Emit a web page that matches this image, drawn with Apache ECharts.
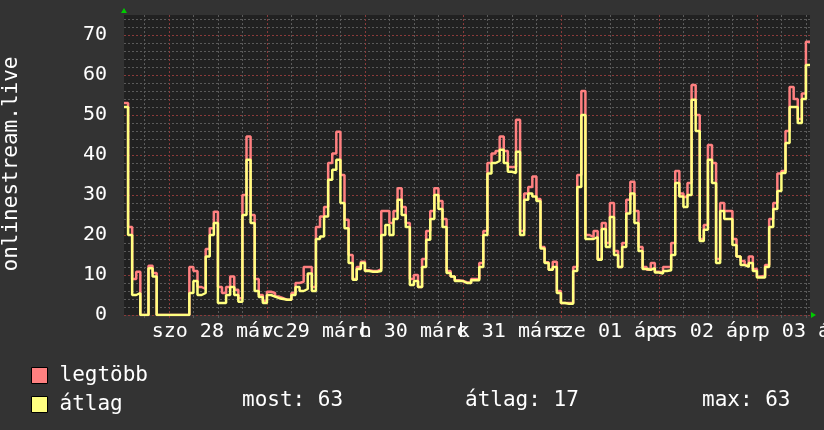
<!DOCTYPE html>
<html><head><meta charset="utf-8">
<script src="https://cdn.jsdelivr.net/npm/echarts@6/dist/echarts.min.js"></script>
<style>html,body{margin:0;padding:0;background:#333333;}#c{width:824px;height:430px;}</style>
</head><body><div id="c"></div>
<script>
// first sample is at 13:00 on Fri 27 March; one sample per hour
const startClockHour = 13;
const dayLabels = ['szo 28 márc', 'v 29 márc', 'h 30 márc', 'k 31 márc', 'sze 01 ápr', 'cs 02 ápr', 'p 03 ápr'];
const legendNames = ['legtöbb', 'átlag'];
const statTexts = ['most: 63', 'átlag: 17', 'max: 63'];
const axisTitle = 'onlinestream.live';

const maxValues = [
  53, 22, 9, 10.8, 0, 0, 12.3, 10.5, 0, 0, 0, 0, 0, 0, 0, 0,
  12, 11, 7, 6.5, 16.5, 21.7, 25.8, 7, 5.5, 7, 9.6, 6.3, 4.2, 30, 44.6, 25,
  9, 5, 3.5, 5.8, 5.5, 4.6, 4.2, 3.8, 3.8, 5.5, 8, 8.3, 12, 12, 7, 22,
  24.6, 27, 38, 40.4, 45.8, 35, 23.8, 15, 9, 12, 13.3, 11.2, 11, 11, 11.5, 26,
  26, 23, 26, 31.7, 27, 23, 9, 10, 7, 14, 21, 26, 31.7, 28.5, 24, 11,
  9.6, 8.7, 8.5, 8.2, 8, 9, 9, 13, 21, 38, 40.4, 41, 44.6, 41, 37, 37,
  48.8, 21, 30.4, 32, 34.6, 29, 17, 13.2, 11.3, 13.3, 6, 3, 3, 3, 12, 35,
  56, 20, 19.5, 21, 14, 23, 18, 28, 16, 12, 18, 28.8, 33.3, 26, 17, 12,
  11.3, 13, 10.8, 10.6, 12, 12, 18, 36, 30.4, 29.5, 33, 57.5, 50, 19, 22.5, 42.5,
  38, 14, 28, 26, 26, 19, 14.6, 13.5, 12.5, 14.6, 11.5, 9.6, 9.8, 12.5, 24, 28,
  35.4, 36, 46, 57, 54, 49, 55.4, 68.3, 68.3
];
const avgValues = [
  52, 20, 5, 5.5, 0, 0, 11.7, 9.6, 0, 0, 0, 0, 0, 0, 0, 0,
  5.5, 8.5, 5, 5.5, 14.6, 20, 23, 3, 3, 5, 7, 5, 3.3, 25, 38.8, 23,
  6, 4.5, 3, 5, 4.6, 4.2, 4, 3.8, 3.8, 5, 7, 6, 6.5, 10.4, 6, 19,
  19.6, 24.6, 33.8, 36.3, 38.8, 28, 21.7, 13, 8.8, 11.5, 13, 11, 10.8, 10.8, 11, 20,
  22.5, 20, 24, 28.8, 25, 22, 7.5, 8.5, 7, 12, 18.8, 24, 30, 26.5, 22, 10.5,
  9.6, 8.5, 8.5, 8, 8, 8.7, 8.7, 12, 20, 35.4, 38, 38.5, 41.3, 38, 35.8, 35.5,
  40.8, 20, 28.8, 30.4, 29.6, 28.5, 16.6, 13, 11.3, 12, 5.5, 3, 2.8, 2.8, 11, 32,
  50, 19, 19, 19.5, 13.8, 21.5, 17, 24.5, 15, 12, 17, 25.4, 30.4, 23, 16, 11.5,
  11.3, 11.7, 10.6, 10.4, 11, 11.2, 15, 33, 29.6, 27, 30, 53.8, 46, 18.5, 21.3, 38.8,
  33, 13, 26, 24, 24, 17.5, 14.6, 12.5, 12, 13, 11, 9.4, 9.4, 12, 22, 26.5,
  31, 35.5, 43, 52, 52, 48, 54, 62.5, 62.5
];

const FONT = 'DejaVu Sans Mono';
const MINOR = '#5a5a5a';
const MAJOR = '#8a3a3a';
const slots = maxValues.map((_, i) => String(i));
const clock = i => (startClockHour + i) % 24;
const isMinor = i => clock(i) % 6 === 0 && clock(i) !== 0;
const isMajor = i => clock(i) === 0;

const G = {left: 124, right: 14, top: 15, bottom: 115};

const chart = echarts.init(document.getElementById('c'), null, {renderer: 'canvas'});
chart.setOption({
  backgroundColor: '#333333',
  animation: false,
  textStyle: {fontFamily: FONT},
  grid: {left: G.left, right: G.right, top: G.top, bottom: G.bottom, show: true,
         backgroundColor: '#212121', borderWidth: 0, containLabel: false, outerBoundsMode: 'none'},
  xAxis: [
    {type: 'category', data: slots, boundaryGap: false,
     axisLine: {show: false},
     axisTick: {show: true, length: 3, interval: isMinor, lineStyle: {color: MINOR}},
     axisLabel: {show: true, interval: 0, hideOverlap: false,
                 formatter: (v, i) => (clock(i) === 12 ? dayLabels[Math.floor(i / 24)] : ''),
                 color: '#ffffff', fontSize: 20, fontFamily: FONT, margin: 7},
     splitLine: {show: true, interval: isMinor, lineStyle: {color: MINOR, width: 1, type: [2, 2]}}},
    {type: 'category', data: slots, boundaryGap: false, position: 'bottom',
     axisLine: {show: false},
     axisTick: {show: true, length: 3, interval: isMajor, lineStyle: {color: MAJOR}},
     axisLabel: {show: false},
     splitLine: {show: true, interval: isMajor, lineStyle: {color: MAJOR, width: 1, type: [2, 2]}}}
  ],
  yAxis: [
    {type: 'value', position: 'left', min: 0, max: 75, interval: 2,
     axisLine: {show: false}, axisTick: {show: false}, axisLabel: {show: false},
     splitLine: {show: true, showMaxLine: false, lineStyle: {color: MINOR, width: 1, type: [2, 2]}}},
    {type: 'value', position: 'left', min: 0, max: 75, interval: 10,
     axisLine: {show: false}, axisTick: {show: false},
     axisLabel: {color: '#ffffff', fontSize: 20, fontFamily: FONT, margin: 17,
                 formatter: v => (v % 10 === 0 ? String(v) : '')},
     splitLine: {show: true, showMaxLine: false, lineStyle: {color: MAJOR, width: 1, type: [2, 2]}}}
  ],
  legend: {data: legendNames, orient: 'vertical', left: 31, top: 365, padding: 0,
           itemWidth: 16, itemHeight: 16, itemGap: 8, icon: 'rect', selectedMode: false,
           itemStyle: {borderColor: '#000000', borderWidth: 1},
           textStyle: {color: '#ffffff', fontSize: 21, fontFamily: FONT, lineHeight: 16, padding: [0, 0, 0, 7]}},
  series: [
    {name: legendNames[0], type: 'line', step: 'end', xAxisIndex: 0, yAxisIndex: 1,
     data: maxValues, symbol: 'none', showSymbol: false, z: 3,
     lineStyle: {color: '#ff8080', width: 2.5}, itemStyle: {color: '#ff8080'}},
    {name: legendNames[1], type: 'line', step: 'end', xAxisIndex: 0, yAxisIndex: 1,
     data: avgValues, symbol: 'none', showSymbol: false, z: 4,
     lineStyle: {color: '#ffff80', width: 2.5}, itemStyle: {color: '#ffff80'}}
  ],
  graphic: [
    {type: 'text', x: 12, y: 164, rotation: Math.PI / 2,
     style: {text: axisTitle, fill: '#ffffff', fontSize: 21, fontFamily: FONT, align: 'center', verticalAlign: 'middle'}},
    {type: 'polygon', shape: {points: [[G.left - 3, G.top - 2], [G.left + 3, G.top - 2], [G.left, G.top - 7]]},
     style: {fill: '#00cc00'}},
    {type: 'polygon', shape: {points: [[824 - G.right + 1, 430 - G.bottom - 3], [824 - G.right + 1, 430 - G.bottom + 3], [824 - G.right + 6, 430 - G.bottom]]},
     style: {fill: '#00cc00'}},
    {type: 'text', x: 242, y: 401, style: {text: statTexts[0], fill: '#ffffff', fontSize: 21, fontFamily: FONT, align: 'left', verticalAlign: 'middle'}},
    {type: 'text', x: 465, y: 401, style: {text: statTexts[1], fill: '#ffffff', fontSize: 21, fontFamily: FONT, align: 'left', verticalAlign: 'middle'}},
    {type: 'text', x: 702, y: 401, style: {text: statTexts[2], fill: '#ffffff', fontSize: 21, fontFamily: FONT, align: 'left', verticalAlign: 'middle'}}
  ]
});
</script>
</body></html>
